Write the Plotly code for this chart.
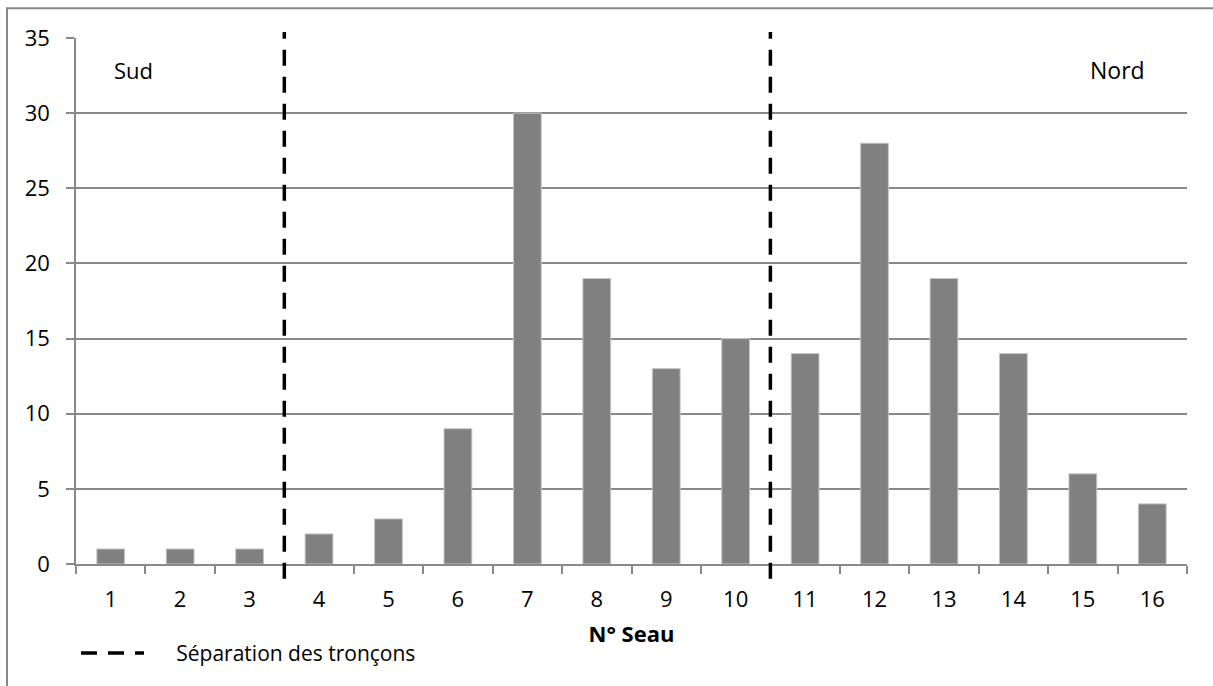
import plotly.graph_objects as go

# Number of items collected in each bucket (seau), from south to north
seaux = [str(i) for i in range(1, 17)]
effectifs = [1, 1, 1, 2, 3, 9, 30, 19, 13, 15, 14, 28, 19, 14, 6, 4]

# Section boundaries: a separator is drawn after these buckets
separations_apres = [3, 10]

y_ticks = [0, 5, 10, 15, 20, 25, 30, 35]

FONT = "Open Sans"
GRID = "#898989"
NBSP = "\u00a0"

fig = go.Figure()

fig.add_trace(go.Bar(
    x=seaux,
    y=effectifs,
    marker=dict(color="#808080", line=dict(color="#c4c4c4", width=1)),
    width=0.4,
    showlegend=False,
    hoverinfo="x+y",
))

# Dashed separators between sections (they overshoot the plot area slightly)
for i, s in enumerate(separations_apres):
    idx = seaux.index(str(s)) + 0.5
    fig.add_shape(
        type="line", xref="x", yref="paper",
        x0=idx, x1=idx, y0=-0.028, y1=1.0115,
        line=dict(color="black", width=3.5, dash="16px,11px"),
        name=NBSP * 5 + "Séparation des tronçons",
        showlegend=(i == 0),
        legendgroup="sep",
    )

# Outer chart frame
fig.add_shape(
    type="rect", xref="paper", yref="paper",
    x0=-0.0621, x1=1.2, y0=-0.5, y1=1.0564,
    line=dict(color=GRID, width=2), fillcolor="rgba(0,0,0,0)",
    layer="below",
)

fig.add_annotation(
    text="Sud", xref="paper", yref="paper",
    x=0.0324, y=0.939, xanchor="left", yanchor="middle",
    showarrow=False, font=dict(family=FONT, size=22, color="black"),
)
fig.add_annotation(
    text="Nord", xref="paper", yref="paper",
    x=0.964, y=0.939, xanchor="right", yanchor="middle",
    showarrow=False, font=dict(family=FONT, size=23, color="black"),
)

fig.update_layout(
    width=1213, height=686,
    margin=dict(l=76, r=26, t=38, b=122),
    paper_bgcolor="white", plot_bgcolor="white",
    font=dict(family=FONT, size=22, color="black"),
    bargap=0.6,
    legend=dict(
        x=0.0, y=-0.17, xanchor="left", yanchor="middle",
        orientation="h", itemwidth=63,
        font=dict(family=FONT, size=21, color="black"),
        bgcolor="rgba(0,0,0,0)",
    ),
    xaxis=dict(
        type="category",
        tickson="boundaries",
        ticks="outside", ticklen=8, tickcolor=GRID, tickwidth=1.5,
        showline=True, linecolor=GRID, linewidth=1.5,
        showgrid=False,
        ticklabelstandoff=15,
        title=dict(text="<b>N° Seau</b>", font=dict(family=FONT, size=22), standoff=14),
        range=[-0.5, 15.5],
    ),
    yaxis=dict(
        range=[0, 35],
        tickvals=y_ticks,
        ticks="outside", ticklen=8, tickcolor=GRID, tickwidth=1.5,
        showline=True, linecolor=GRID, linewidth=1.5,
        showgrid=True, gridcolor=GRID, gridwidth=1.5,
        zeroline=False,
        ticklabelstandoff=12,
    ),
)

fig.write_html("out.html")
